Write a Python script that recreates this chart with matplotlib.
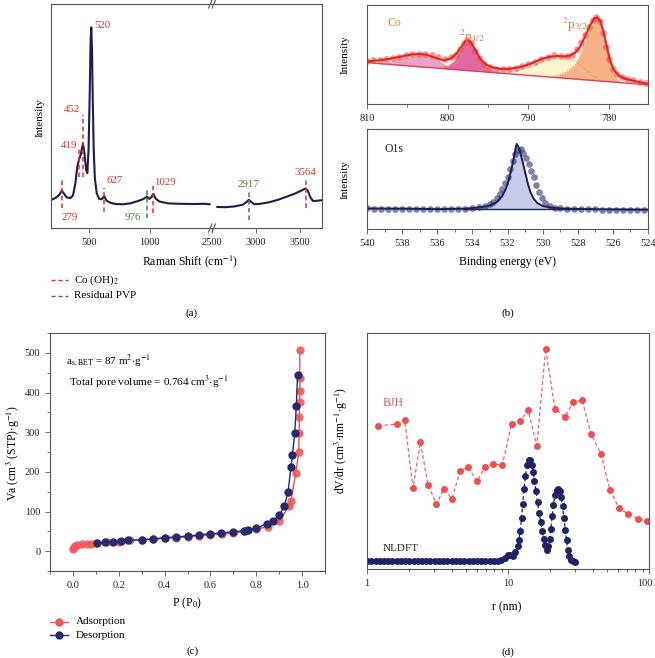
import numpy as np
import matplotlib
matplotlib.use("Agg")
import matplotlib.pyplot as plt
import matplotlib.transforms as mtransforms
from matplotlib.lines import Line2D
from matplotlib.ticker import MultipleLocator, NullFormatter

plt.rcParams['font.family'] = ['Liberation Serif', 'DejaVu Serif']
plt.rcParams['mathtext.fontset'] = 'stix'

# ---------------- data ----------------
# (a) Raman spectrum, low-wavenumber segment and high-wavenumber segment
raman_lo_x = [190, 230, 260, 279, 295, 320, 350, 370, 390, 405, 419, 435, 452, 465, 478, 488,
              498, 508, 515, 520, 526, 533, 540, 550, 565, 585, 605, 627, 645, 680, 720, 780,
              840, 900, 950, 976, 995, 1010, 1029, 1050, 1080, 1150, 1250, 1350, 1450, 1490]
raman_lo_y = [12.5, 13.5, 15.0, 16.7, 15.5, 13.6, 13.4, 14.5, 20, 27, 30.5, 33, 37.8, 33, 26, 24.5,
              35, 62, 84, 89.6, 80, 55, 35, 22, 15.5, 13, 12.8, 14.2, 12.2, 11.2, 10.7, 10.6,
              11.0, 12.0, 13.0, 14.0, 13.0, 13.6, 15.2, 13.0, 11.8, 11.0, 10.8, 10.7, 10.8, 10.6]
raman_hi_x = [2560, 2650, 2750, 2850, 2900, 2917, 2940, 2980, 3050, 3150, 3250, 3350, 3450,
              3520, 3564, 3590, 3620, 3650, 3700, 3750]
raman_hi_y = [9.4, 9.3, 9.6, 10.4, 11.8, 12.6, 11.8, 10.6, 10.8, 11.5, 12.6, 14.0, 15.5,
              16.8, 17.7, 16.5, 13.5, 12.0, 12.2, 12.4]
# peak markers: position, line bottom, line top, group
peak_pos = [279, 419, 452, 627, 976, 1029, 2917, 3564]
peak_lo = [8.9, 22.8, 22.8, 7.1, 4.5, 6.7, 3.6, 8.9]
peak_hi = [22.3, 35.7, 50.4, 17.9, 17.4, 18.8, 16.1, 22.3]
peak_kind = ['co', 'co', 'co', 'co', 'pvp', 'co', 'pvp', 'co']

# (b) XPS Co 2p
co_be = [810, 809.2, 808.4, 807.6, 806.8, 806, 805.2, 804.4, 803.6, 802.8, 802, 801.2, 800.4,
         799.6, 799.0, 798.5, 798.0, 797.6, 797.1, 796.6, 796.1, 795.5, 794.8, 794, 793.2,
         792.4, 791.6, 790.8, 790, 789.2, 788.4, 787.6, 786.8, 786, 785.2, 784.6, 784, 783.5,
         783, 782.5, 782.0, 781.6, 781.2, 780.8, 780.4, 780.0, 779.5, 779, 778.4, 777.8, 777,
         776.2, 775.4]
co_int = [43, 44, 44.5, 45.5, 46.5, 47.5, 49, 50.5, 51, 50.5, 49, 47, 45,
          47, 50, 56, 62, 65, 62, 54, 46, 40, 37, 35.5, 35,
          35.5, 36.5, 38, 40, 42.5, 45, 47.5, 49, 48.5, 48, 50, 56, 63,
          70, 78, 85, 88, 84, 72, 58, 45, 35, 30, 27, 25.5, 24,
          22.5, 21]
co_fit_be = [810, 808, 806, 804.5, 803.5, 802.5, 801.5, 800.5, 799.6, 798.9, 798.3, 797.8, 797.5,
             797.1, 796.6, 796.0, 795.3, 794.5, 793.5, 792.5, 791.5, 790.5, 789.5, 788.5, 787.5,
             786.5, 785.5, 784.8, 784.2, 783.6, 783.0, 782.4, 781.9, 781.5, 781.1, 780.7, 780.3,
             779.9, 779.4, 778.8, 778, 777, 776, 775.2]
co_fit = [43, 44.5, 47.5, 50, 50.5, 49.5, 46.5, 44, 46, 51, 58, 63.5, 64.5,
          62, 55, 46, 40, 37, 35.5, 35.5, 36.5, 38.5, 41.5, 45, 47.5,
          48.5, 48, 49, 52, 58, 68, 79, 86, 87.5, 84, 73, 58,
          44, 34, 28.5, 25.5, 23.5, 21.5, 20.3]
co_bg_be = [810, 775.2]
co_bg = [41.8, 19.4]
sat1_be = [808.5, 807, 805.5, 804, 803, 802, 801, 800, 799]
sat1_top = [41.2, 42.8, 46, 48.5, 48.8, 47, 43, 38, 35]
sat1_bot = [40.8, 39.9, 38.9, 38.0, 37.3, 36.7, 36.0, 35.4, 34.7]
p12_be = [801, 800, 799.3, 798.7, 798.2, 797.8, 797.5, 797.1, 796.6, 796, 795.3, 794.5, 793.5]
p12_top = [36.5, 38.5, 43, 51, 58, 63, 64, 61.5, 54, 45, 38, 34, 31.6]
p12_bot = [36.0, 35.4, 34.9, 34.5, 34.2, 34.0, 33.8, 33.5, 33.2, 32.8, 32.3, 31.8, 31.2]
sat2_be = [793, 791.5, 790, 789, 788, 787, 786, 785, 784, 783, 782, 781]
sat2_top = [31.5, 33, 36.5, 40, 43.5, 46, 47, 46, 42, 35, 28, 23.6]
sat2_bot = [30.9, 29.9, 28.9, 28.3, 27.6, 27.0, 26.4, 25.7, 25.1, 24.4, 23.8, 23.1]
p32_be = [787, 786, 785, 784.2, 783.6, 783, 782.5, 782, 781.6, 781.2, 780.8, 780.4, 780, 779.5,
          779, 778.5]
p32_top = [27.5, 30, 34, 40, 50, 63, 74, 83, 86.5, 83, 72, 57, 43, 31, 25, 22]
p32_bot = [27.0, 26.4, 25.7, 25.2, 24.8, 24.4, 24.1, 23.8, 23.5, 23.3, 23.0, 22.8, 22.5, 22.2,
           21.9, 21.5]

# (b) XPS O1s
o_be = [540, 539.6, 539.2, 538.8, 538.4, 538, 537.6, 537.2, 536.8, 536.4, 536, 535.6, 535.2,
        534.8, 534.4, 534, 533.6, 533.3, 533, 532.8, 532.6, 532.45, 532.3, 532.15, 532.0,
        531.85, 531.7, 531.55, 531.4, 531.25, 531.1, 530.95, 530.8, 530.65, 530.5, 530.35,
        530.2, 530.05, 529.85, 529.6, 529.3, 529, 528.6, 528.2, 527.8, 527.4, 527, 526.6,
        526.2, 525.8, 525.4, 525, 524.6, 524.2]
o_int = [20.6, 20.5, 20.4, 20.4, 20.3, 20.2, 20.2, 20.1, 20, 19.9, 19.8, 19.8, 19.9,
         20.1, 20.4, 20.9, 21.8, 23, 25, 27.5, 31, 35, 40, 46, 52,
         60, 68, 75, 79.5, 80, 76, 71, 65, 58, 52, 44,
         37, 31, 26, 23, 21.5, 20.8, 20.3, 20, 19.8, 19.7, 19.6, 19.5,
         19.5, 19.4, 19.4, 19.3, 19.3, 19.3]
o_fit_be = [540, 538, 536, 534.5, 534, 533.5, 533, 532.6, 532.3, 532.1, 531.95, 531.8, 531.65,
            531.55, 531.48, 531.4, 531.3, 531.15, 531.0, 530.85, 530.7, 530.5, 530.3, 530,
            529.5, 529, 528, 526, 524]
o_fit = [20.5, 20.3, 19.9, 20.3, 20.8, 21.8, 23.5, 27, 33, 40, 48, 58, 70,
         80, 85, 83, 78, 68, 57, 46, 37, 30, 26, 23,
         21.3, 20.6, 20, 19.6, 19.3]
o_bg_be = [534.5, 528]
o_bg = [20.3, 20.3]

# (c) N2 isotherm
ads_p = [0.0, 0.005, 0.01, 0.02, 0.04, 0.06, 0.08, 0.1, 0.15, 0.2, 0.25, 0.3, 0.35, 0.4, 0.45,
         0.5, 0.55, 0.6, 0.65, 0.7, 0.75, 0.8, 0.85, 0.9, 0.944, 0.951, 0.973, 0.985, 0.987,
         0.988, 0.989, 0.99, 0.99, 0.99]
ads_v = [5, 10, 13, 15, 17, 18, 19, 20, 22, 24, 27, 28, 30, 32, 34,
         36, 38, 41, 43, 46, 50, 55, 62, 77, 113, 126, 198, 249, 298,
         338, 376, 405, 436, 507]
des_p = [0.98, 0.975, 0.968, 0.958, 0.951, 0.939, 0.922, 0.90, 0.871, 0.849, 0.798, 0.762,
         0.748, 0.70, 0.646, 0.6, 0.55, 0.5, 0.45, 0.4, 0.35, 0.3, 0.24, 0.21, 0.175, 0.14, 0.105]
des_v = [443, 367, 298, 242, 211, 149, 113, 90, 75, 69, 58, 54,
         51.5, 49, 46, 44, 41, 38, 36, 34, 31, 29, 27, 25, 24, 22, 20]

# (d) pore size distribution
bjh_r = [1.2, 1.64, 1.85, 2.12, 2.39, 2.71, 3.11, 3.50, 4.01, 4.57, 5.24, 6.01, 6.85, 7.89,
         9.09, 10.6, 12.1, 13.9, 16.0, 18.5, 21.5, 25.3, 29.0, 33.6, 38.7, 45.6, 52.8, 61.2,
         71.3, 84.0, 96.2]
bjh_v = [60.7, 61.4, 63.3, 34.3, 53.7, 35.5, 27.5, 33.9, 29.8, 41.4, 43.1, 37.1, 43.1, 44.6,
         43.9, 61.4, 62.6, 67.2, 52.3, 93.4, 67.9, 64.4, 70.8, 71.5, 57.3, 48.9, 33.6, 25.8,
         23.3, 21.3, 20.2]
nldft_r = [1.0, 1.07, 1.15, 1.23, 1.32, 1.41, 1.51, 1.62, 1.74, 1.86, 2.0, 2.14, 2.29, 2.46,
           2.63, 2.82, 3.02, 3.24, 3.47, 3.72, 3.98, 4.27, 4.57, 4.90, 5.25, 5.62, 6.03, 6.46,
           6.92, 7.41, 7.94, 8.51, 8.99, 9.5, 9.92, 10.36, 10.9, 11.3, 11.7, 11.9, 12.2, 12.5,
           12.7, 13.0, 13.3, 13.6, 14.0, 14.4, 14.8, 15.1, 15.4, 15.8, 16.2, 16.6, 17.1, 17.5,
           17.9, 18.3, 18.8, 19.3, 19.7, 20.1, 20.6, 21.0, 21.5, 22.1, 22.7, 23.3, 23.8, 24.4,
           24.9, 25.5, 26.0, 26.6, 27.2, 27.9, 29.0, 30.1]
nldft_v = [3.2, 3.2, 3.2, 3.2, 3.2, 3.2, 3.2, 3.2, 3.2, 3.2, 3.2, 3.2, 3.2, 3.2,
           3.2, 3.2, 3.2, 3.2, 3.2, 3.2, 3.2, 3.2, 3.2, 3.2, 3.2, 3.2, 3.2, 3.2,
           3.2, 3.2, 3.2, 3.3, 4.0, 4.7, 5.8, 6.1, 5.4, 7.1, 9.6, 12.1, 16.2, 21.6,
           27.7, 33.9, 39.5, 44.2, 46.3, 46.0, 44.2, 41.0, 37.1, 32.9, 28.2, 23.7, 19.8, 16.2,
           12.9, 10.3, 8.2, 9.6, 12.9, 16.9, 22.3, 27.3, 31.2, 33.6, 33.9, 32.9, 30.4, 26.6,
           21.6, 16.7, 12.1, 8.2, 5.4, 3.7, 3.2, 3.0]

# ---------------- layout helpers ----------------
W, H = 655, 658
NAVY = '#1c1e52'
RED = '#ee2b2b'
GREEN = '#4d7a3c'
ORANGE = '#f47a3c'
FRAME = '#555555'


def box(x0, y0, x1, y1):
    return [x0 / W, 1 - y1 / H, (x1 - x0) / W, (y1 - y0) / H]


def fp(x, y):
    return x / W, 1 - y / H


def style(ax):
    for s in ax.spines.values():
        s.set_color(FRAME)
        s.set_linewidth(0.8)
    ax.tick_params(which='both', direction='out', colors=FRAME, labelcolor='#222222',
                   labelsize=7.5, width=0.6)
    ax.tick_params(which='major', length=3.5)
    ax.tick_params(which='minor', length=2.5)


fig = plt.figure(figsize=(W / 100, H / 100), dpi=100)

# ---------------- (a) Raman ----------------
axl = fig.add_axes(box(51, 4, 212, 228))
axr = fig.add_axes(box(212, 4, 322, 228))
for ax in (axl, axr):
    style(ax)
    ax.set_ylim(0, 100)
    ax.set_yticks([])
axl.spines['right'].set_visible(False)
axr.spines['left'].set_visible(False)
axl.set_xlim(190, 1510)
axr.set_xlim(2500, 3750)
axl.set_xticks([500, 1000])
axr.set_xticks([2500, 3000, 3500])
axl.plot(raman_lo_x, raman_lo_y, color=NAVY, lw=1.5)
axr.plot(raman_hi_x, raman_hi_y, color=NAVY, lw=1.5)
for pos, lo, hi, kind in zip(peak_pos, peak_lo, peak_hi, peak_kind):
    ax = axl if pos < 2000 else axr
    ax.plot([pos, pos], [lo, hi], ls=(0, (3, 2)), lw=1.1,
            color=RED if kind == 'co' else GREEN)
lab = dict(fontsize=7.8, va='center')
axl.text(341, 4.9, '279', color=RED, ha='center', **lab)
axl.text(404, 37, '419', color=RED, ha='right', **lab)
axl.text(428, 52.7, '452', color=RED, ha='right', **lab)
axl.text(548, 90.2, '520', color=RED, ha='left', **lab)
axl.text(646, 21.4, '627', color=RED, ha='left', **lab)
axl.text(927, 4.5, '976', color=GREEN, ha='right', **lab)
axl.text(1032, 20.5, '1029', color=RED, ha='left', **lab)
axr.text(2917, 19.6, '2917', color=GREEN, ha='center', **lab)
axr.text(3564, 24.6, '3564', color=RED, ha='center', **lab)
fig.text(*fp(40, 118), 'Intensity', rotation=90, ha='center', va='center', fontsize=8)
fig.text(*fp(190, 262), r'Raman Shift (cm$^{-1}$)', ha='center', va='center', fontsize=8.5)
# axis break marks
for yb in (4, 228):
    for xo in (0, 3.5):
        fig.add_artist(Line2D([(208.5 + xo) / W, (212 + xo) / W],
                              [1 - (yb + 4) / H, 1 - (yb - 4) / H],
                              color=FRAME, lw=0.8))
# legend for (a)
for yy, col, txt in ((280, RED, r'Co (OH)$_2$'), (296, GREEN, 'Residual PVP')):
    fig.add_artist(Line2D([51 / W, 68 / W], [1 - yy / H] * 2, color=col, lw=1.0,
                          ls=(0, (3, 2))))
    fig.text(*fp(74, yy), txt, ha='left', va='center', fontsize=8)
fig.text(*fp(192, 313), '(a)', ha='center', va='center', fontsize=8)

# ---------------- (b) XPS ----------------
axc = fig.add_axes(box(367, 5, 648, 104))
style(axc)
axc.set_xlim(810, 775.2)
axc.set_ylim(0, 100)
axc.set_yticks([])
axc.xaxis.set_major_locator(MultipleLocator(10))
axc.xaxis.set_minor_locator(MultipleLocator(5))
axc.fill_between(sat1_be, sat1_bot, sat1_top, color='#eaa2c8', lw=0)
axc.fill_between(p12_be, p12_bot, p12_top, color='#e3689f', lw=0)
axc.fill_between(sat2_be, sat2_bot, sat2_top, color='#fbf5cf', lw=0)
axc.fill_between(p32_be, p32_bot, p32_top, color='#f4b286', lw=0)
for bx, ty in ((sat1_be, sat1_top), (p12_be, p12_top), (sat2_be, sat2_top), (p32_be, p32_top)):
    axc.plot(bx, ty, color='#f08a3a', lw=0.7, ls=':')
axc.plot(co_bg_be, co_bg, color='#e0405a', lw=1.0)
axc.plot(co_be, co_int, 'o', color='#e8504f', alpha=0.6, ms=4.8, mec='none')
axc.plot(co_fit_be, co_fit, color='#e82222', lw=1.5)
axc.text(807.5, 82, 'Co', color=ORANGE, fontsize=8.5, va='center')
axc.text(797.0, 68, r'$^{2}$p$_{1/2}$', color=ORANGE, fontsize=9.5, ha='center', va='center')
axc.text(784.3, 80, r'$^{2}$p$_{3/2}$', color=ORANGE, fontsize=9.5, ha='center', va='center')
fig.text(*fp(345.5, 55), 'Intensity', rotation=90, ha='center', va='center', fontsize=8)

axo = fig.add_axes(box(367, 129, 648, 229))
style(axo)
axo.set_xlim(540, 524)
axo.set_ylim(0, 100)
axo.set_yticks([])
axo.xaxis.set_major_locator(MultipleLocator(2))
axo.xaxis.set_minor_locator(MultipleLocator(1))
o_fill_be = o_fit_be[4:26]
o_fill = o_fit[4:26]
axo.fill_between(o_fill_be, [20.3] * len(o_fill_be), o_fill, color='#c9cbea', lw=0)
axo.plot(o_bg_be, o_bg, color=NAVY, lw=1.0)
axo.plot(o_be, o_int, 'o', color='#2d2f7c', alpha=0.6, ms=4.8, mec='none')
axo.plot(o_fit_be, o_fit, color=NAVY, lw=1.4)
axo.text(539, 80, 'O1s', color='#222222', fontsize=8.5, va='center')
fig.text(*fp(345.5, 180), 'Intensity', rotation=90, ha='center', va='center', fontsize=8)
fig.text(*fp(507.5, 262), 'Binding energy (eV)', ha='center', va='center', fontsize=8.5)
fig.text(*fp(508, 313), '(b)', ha='center', va='center', fontsize=8)

# ---------------- (c) isotherm ----------------
axi = fig.add_axes(box(50, 333, 325, 571))
style(axi)
axi.set_xlim(-0.1, 1.1)
axi.set_ylim(-50, 550)
axi.xaxis.set_major_locator(MultipleLocator(0.2))
axi.xaxis.set_minor_locator(MultipleLocator(0.1))
axi.yaxis.set_major_locator(MultipleLocator(100))
axi.yaxis.set_minor_locator(MultipleLocator(50))
axi.xaxis.set_major_formatter(plt.FormatStrFormatter('%.1f'))
ADS = '#f25858'
DES = '#262a70'
axi.plot(ads_p, ads_v, '-o', color='#f03a3a', mfc=ADS, mec='none', ms=6, lw=1.0, alpha=0.9)
axi.plot(des_p, des_v, '-o', color=DES, mfc=DES, mec='none', ms=6, lw=1.0)
axi.text(-0.03, 481, r'a$_{\rm s,BET}$ = 87 m$^2$$\cdot$g$^{-1}$', fontsize=8, va='center')
axi.text(-0.017, 427, r'Total pore volume = 0.764 cm$^3$$\cdot$g$^{-1}$', fontsize=8,
         va='center')
fig.text(*fp(13, 453), r'Va (cm$^3$ (STP)$\cdot$g$^{-1}$)', rotation=90, ha='center',
         va='center', fontsize=8.5)
fig.text(*fp(187, 603), r'P (P$_0$)', ha='center', va='center', fontsize=8.5)
for yy, col, txt in ((622, ADS, 'Adsorption'), (635, DES, 'Desorption')):
    fig.add_artist(Line2D([50 / W, 68 / W], [1 - yy / H] * 2, color=col, lw=1.0))
    fig.add_artist(Line2D([59 / W], [1 - yy / H], marker='o', ms=6, color=col, mec='none'))
    fig.text(*fp(76, yy), txt, ha='left', va='center', fontsize=8)
fig.text(*fp(193, 651), '(c)', ha='center', va='center', fontsize=8)

# ---------------- (d) pore size distribution ----------------
axd = fig.add_axes(box(367, 333, 649, 569))
style(axd)
axd.set_xscale('log')
axd.set_xlim(1, 100)
axd.set_ylim(0, 100)
axd.set_yticks([])
axd.set_xticks([1, 10, 100])
axd.set_xticklabels(['1', '10', '100'])
axd.xaxis.set_minor_formatter(NullFormatter())
# keep the last tick label inside the canvas
last = axd.get_xticklabels()[-1]
last.set_transform(last.get_transform() +
                   mtransforms.ScaledTranslation(-4 / 100, 0, fig.dpi_scale_trans))
axd.plot(bjh_r, bjh_v, 'o', ls=(0, (3, 2)), color='#f06464', mfc='#ef4f4f', mec='none',
         ms=5, lw=0.9)
axd.plot(nldft_r, nldft_v, 'o', ls=(0, (3, 2)), color='#1f2266', mfc='#1f2266', mec='none',
         ms=5, lw=0.9)
axd.text(1.3, 70.5, 'BJH', color='#f05050', fontsize=8.5, va='center')
axd.text(1.3, 8.5, 'NLDFT', color='#222222', fontsize=8, va='center')
fig.text(*fp(341, 440), r'dV/dr (cm$^3$$\cdot$nm$^{-1}$$\cdot$g$^{-1}$)', rotation=90,
         ha='center', va='center', fontsize=8.5)
fig.text(*fp(507, 607), 'r (nm)', ha='center', va='center', fontsize=8.5)
fig.text(*fp(508, 652), '(d)', ha='center', va='center', fontsize=8)

fig.savefig('out.png', dpi=100)
